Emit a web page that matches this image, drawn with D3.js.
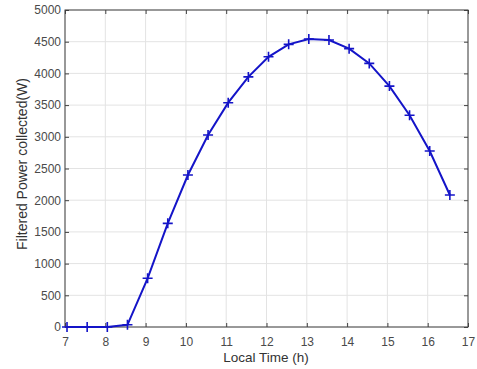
<!DOCTYPE html>
<html>
<head>
<meta charset="utf-8">
<script src="https://cdn.jsdelivr.net/npm/d3@7"></script>
<style>
  body { margin: 0; background: #fff; }
  svg { display: block; font-family: "Liberation Sans", Arial, sans-serif; }
</style>
</head>
<body>
<div id="chart"></div>
<script>
// local time (h) and filtered power (W)
var hours = [7.05, 7.55, 8.05, 8.55, 9.05, 9.55, 10.05, 10.55, 11.05, 11.55,
             12.05, 12.55, 13.05, 13.55, 14.05, 14.55, 15.05, 15.55, 16.05, 16.55];
var power = [0, 0, 0, 35, 768, 1635, 2397, 3028, 3538, 3945,
             4262, 4458, 4543, 4527, 4390, 4158, 3800, 3340, 2776, 2082];
var xTicks = [7, 8, 9, 10, 11, 12, 13, 14, 15, 16, 17];
var yTicks = [0, 500, 1000, 1500, 2000, 2500, 3000, 3500, 4000, 4500, 5000];

var width = 477, height = 369;
var margin = {top: 10, right: 9, bottom: 42, left: 65};
var w = width - margin.left - margin.right,
    h = height - margin.top - margin.bottom;

var svg = d3.select("#chart").append("svg")
    .attr("width", width)
    .attr("height", height);

var g = svg.append("g")
    .attr("transform", "translate(" + margin.left + "," + margin.top + ")");

var x = d3.scaleLinear().domain([7, 17]).range([0, w]);
var y = d3.scaleLinear().domain([0, 5000]).range([h, 0]);

/*
 * Grid lines.
 */
g.append("g").selectAll("line").data(xTicks).enter().append("line")
    .attr("x1", x).attr("x2", x).attr("y1", 0).attr("y2", h)
    .attr("stroke", "#e3e3e3").attr("stroke-width", 1);
g.append("g").selectAll("line").data(yTicks).enter().append("line")
    .attr("y1", y).attr("y2", y).attr("x1", 0).attr("x2", w)
    .attr("stroke", "#e3e3e3").attr("stroke-width", 1);

/*
 * Axes, MATLAB style: ticks pointing in, box around.
 */
var tickColor = "#404040";
function styleAxis(sel) {
    sel.select(".domain").remove();
    sel.selectAll(".tick line").attr("stroke", tickColor);
    sel.selectAll(".tick text").attr("fill", "#4a4a4a").style("font-size", "12px");
}

g.append("g").attr("transform", "translate(0," + h + ")")
    .call(d3.axisBottom(x).tickValues(xTicks).tickFormat(d3.format("d"))
        .tickSizeInner(-4).tickSizeOuter(0).tickPadding(10))
    .call(styleAxis);
g.append("g")
    .call(d3.axisLeft(y).tickValues(yTicks).tickFormat(d3.format("d"))
        .tickSizeInner(-4).tickSizeOuter(0).tickPadding(4))
    .call(styleAxis);
g.append("g")
    .call(d3.axisTop(x).tickValues(xTicks).tickSizeInner(-4).tickSizeOuter(0).tickFormat(""))
    .call(styleAxis);
g.append("g").attr("transform", "translate(" + w + ",0)")
    .call(d3.axisRight(y).tickValues(yTicks).tickSizeInner(-4).tickSizeOuter(0).tickFormat(""))
    .call(styleAxis);

g.append("rect")
    .attr("width", w).attr("height", h)
    .attr("fill", "none").attr("stroke", tickColor).attr("stroke-width", 1);

/*
 * Data line and + markers.
 */
var data = hours.map(function(t, i) { return {t: t, p: power[i]}; });
var line = d3.line()
    .x(function(d) { return x(d.t); })
    .y(function(d) { return y(d.p); });

g.append("path")
    .datum(data)
    .attr("d", line)
    .attr("fill", "none")
    .attr("stroke", "#1414c8")
    .attr("stroke-width", 2);

g.selectAll(".mk").data(data).enter().append("path")
    .attr("class", "mk")
    .attr("transform", function(d) { return "translate(" + x(d.t) + "," + y(d.p) + ")"; })
    .attr("d", "M-5,0H5M0,-5V5")
    .attr("stroke", "#1414c8")
    .attr("stroke-width", 1.6)
    .attr("fill", "none");

/*
 * Axis labels.
 */
svg.append("text")
    .attr("x", 266)
    .attr("y", 362)
    .attr("text-anchor", "middle")
    .attr("fill", "#333")
    .style("font-size", "13.5px")
    .text("Local Time (h)");

svg.append("text")
    .attr("transform", "translate(27,164) rotate(-90)")
    .attr("text-anchor", "middle")
    .attr("fill", "#333")
    .style("font-size", "14px")
    .text("Filtered Power collected(W)");
</script>
</body>
</html>
